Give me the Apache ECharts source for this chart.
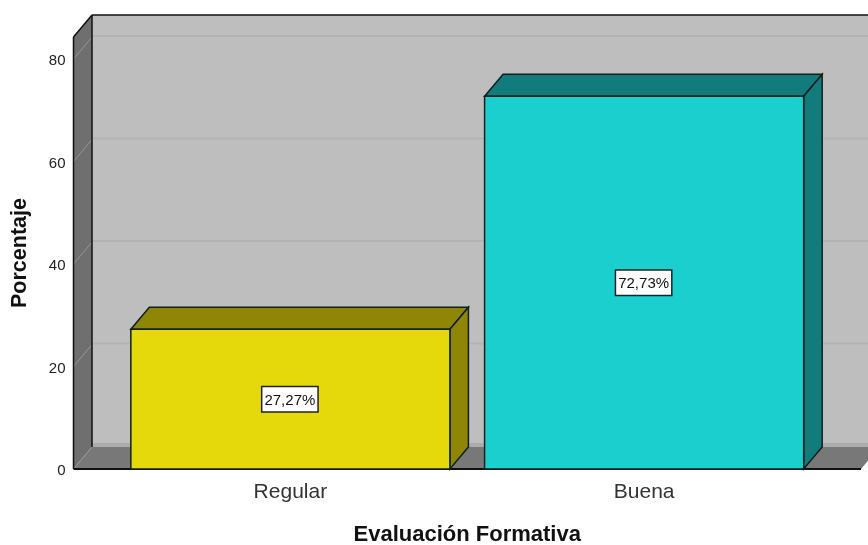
<!DOCTYPE html>
<html>
<head>
<meta charset="utf-8">
<style>
  html, body { margin: 0; padding: 0; background: #fff; }
  #main { width: 868px; height: 545px; }
</style>
<script src="https://cdn.jsdelivr.net/npm/echarts@6/dist/echarts.min.js"></script>
</head>
<body>
<div id="main"></div>
<script>
var categories = ['Regular', 'Buena'];
var values = [27.27, 72.73];
var yTicks = [0, 20, 40, 60, 80];
var yMax = 84.3;

var frontColors = ['#e5d90c', '#1ccfcf'];
var sideColors = ['#8f8606', '#127c7c'];

// profundidad del efecto 3D, en pixeles
var dx = 18.5, dy = -22;
var axisShift = 40;

function poly(points, fill, stroke, width) {
  return {
    type: 'polygon',
    shape: { points: points },
    style: { fill: fill, stroke: stroke || null, lineWidth: width || 0 }
  };
}
function line(x1, y1, x2, y2, color, width) {
  return {
    type: 'line',
    shape: { x1: x1, y1: y1, x2: x2, y2: y2 },
    style: { stroke: color, lineWidth: width, fill: null }
  };
}

// paredes, piso y lineas de la cuadricula
function renderWalls(params, api) {
  var cs = params.coordSys;
  var left = cs.x - axisShift;
  var right = cs.x + cs.width + axisShift;
  var top = api.coord([0, yMax])[1];
  var bottom = api.coord([0, 0])[1];
  var kids = [
    poly([[left + dx, top + dy], [900, top + dy], [900, bottom + dy], [left + dx, bottom + dy]], '#bebebe'),
    poly([[left, top], [left + dx, top + dy], [left + dx, bottom + dy], [left, bottom]], '#6f6f6f'),
    poly([[left, bottom], [left + dx, bottom + dy], [right + dx, bottom + dy], [right, bottom]], '#787878')
  ];
  yTicks.forEach(function (t) {
    var y = api.coord([0, t])[1];
    if (t === 0) {
      kids.push(line(left + dx, y + dy - 2, 900, y + dy - 2, '#acacac', 4));
    } else {
      kids.push(line(left + dx, y + dy - 1, 900, y + dy - 1, '#b3b3b3', 2));
    }
    kids.push(line(left, y, left + dx, y + dy, '#979797', 1));
  });
  kids.push(line(left, top, left, bottom, '#111', 1.5));
  kids.push(line(left, top, left + dx, top + dy, '#111', 1.5));
  kids.push(line(left + dx, top + dy, left + dx, bottom + dy, '#111', 1.5));
  kids.push(line(left + dx, top + dy, 900, top + dy, '#111', 1.5));
  kids.push(line(left, bottom, right, bottom, '#111', 2));
  return { type: 'group', children: kids };
}

function renderBar(params, api) {
  var i = api.value(0);
  var val = api.value(1);
  var p = api.coord([i, val]);
  var base = api.coord([i, 0]);
  var w = api.size([1, 0])[0] * 0.902;
  var l = p[0] - w / 2, r = p[0] + w / 2, t = p[1], b = base[1];
  var stroke = '#10201c';
  return {
    type: 'group',
    children: [
      poly([[l, t], [l + dx, t + dy], [r + dx, t + dy], [r, t]], sideColors[i], stroke, 1.5),
      poly([[r, t], [r + dx, t + dy], [r + dx, b + dy], [r, b]], sideColors[i], stroke, 1.5),
      poly([[l, t], [r, t], [r, b], [l, b]], frontColors[i], stroke, 1.5),
      {
        type: 'text',
        x: p[0] - 0.5,
        y: (t + b) / 2,
        style: {
          text: '{a|' + val.toFixed(2).replace('.', ',') + '%}',
          rich: { a: { fontFamily: 'Liberation Sans', fontSize: 15, fill: '#111', padding: [3, 0, 0, 0] } },
          fontFamily: 'Liberation Sans',
          fontSize: 15,
          fill: '#111',
          align: 'center',
          verticalAlign: 'middle',
          backgroundColor: '#fff',
          borderColor: '#222',
          borderWidth: 1.5,
          padding: [3, 2, 3, 2]
        }
      }
    ]
  };
}

var chart = echarts.init(document.getElementById('main'));
chart.setOption({
  animation: false,
  grid: { left: 113.5, right: 47, top: 37, bottom: 76, outerBoundsMode: 'none' },
  xAxis: {
    type: 'category',
    data: categories,
    name: 'Evaluación Formativa',
    nameLocation: 'middle',
    nameGap: 55,
    nameTextStyle: { fontFamily: 'Liberation Sans', fontSize: 22, fontWeight: 'bold', color: '#111' },
    axisLine: { show: false },
    axisTick: { show: false },
    axisLabel: { fontFamily: 'Liberation Sans', fontSize: 21, color: '#333', margin: 13 }
  },
  yAxis: {
    type: 'value',
    min: 0,
    max: yMax,
    interval: 20,
    offset: axisShift,
    name: 'Porcentaje',
    nameLocation: 'middle',
    nameGap: 42,
    nameTextStyle: { fontFamily: 'Liberation Sans', fontSize: 21.5, fontWeight: 'bold', color: '#111' },
    axisLine: { show: false },
    axisTick: { show: false },
    splitLine: { show: false },
    axisLabel: {
      margin: 8,
      showMaxLabel: false,
      formatter: '{t|{value}}',
      rich: { t: { fontFamily: 'Liberation Sans', fontSize: 15, color: '#222', padding: [4, 0, 0, 0] } }
    }
  },
  series: [
    { type: 'custom', silent: true, clip: false, z: 1, data: [[0, 0]], renderItem: renderWalls },
    {
      type: 'custom',
      silent: true,
      clip: false,
      z: 2,
      data: values.map(function (v, i) { return [i, v]; }),
      encode: { x: 0, y: 1 },
      renderItem: renderBar
    }
  ]
});
</script>
</body>
</html>
